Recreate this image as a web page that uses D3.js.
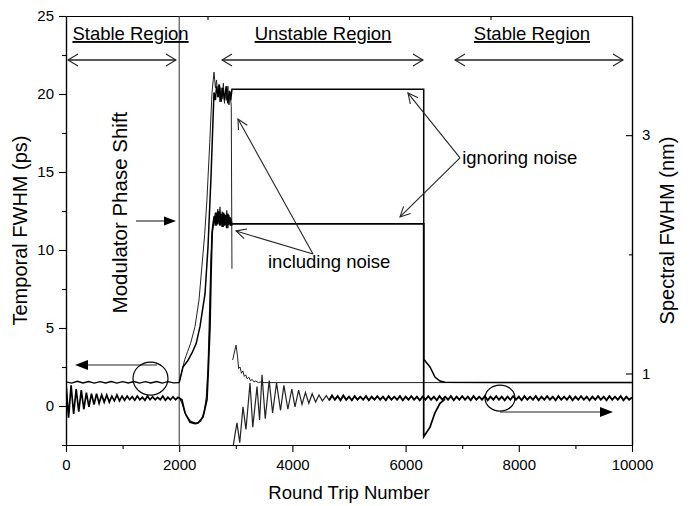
<!DOCTYPE html>
<html>
<head>
<meta charset="utf-8">
<script src="https://cdn.jsdelivr.net/npm/d3@7"></script>
<style>
  body { margin: 0; background: #fff; }
  text { font-family: "Liberation Sans", Arial, sans-serif; fill: #000; }
</style>
</head>
<body>
<svg id="chart" width="690" height="506"></svg>
<script>
//Tick values
let xMajorTicks = [0, 2000, 4000, 6000, 8000, 10000];
let xMinorTicks = [1000, 3000, 5000, 7000, 9000];
let xTopTicks = [2500, 5000, 7500];
let yLeftTicks = [0, 5, 10, 15, 20, 25];
let yLeftMinor = [-2.5, 2.5, 7.5, 12.5, 17.5, 22.5];
let yRightTicks = [1, 3];
let yRightMinor = [2];

//Temporal FWHM (ps), stable start, sampled every 100 round trips
let tempStartStep = 100;
let tempStart = [1.55, 1.47, 1.58, 1.48, 1.57, 1.47, 1.56, 1.48, 1.57, 1.47, 1.56,
    1.48, 1.57, 1.47, 1.56, 1.48, 1.57, 1.47, 1.56, 1.48, 1.5];

//Temporal FWHM ignoring noise [round trip, ps]
let tempIgnoring = [[2000, 1.5], [2067, 2.5], [2150, 2.9], [2226, 3.4], [2300, 4.0], [2368, 5.1],
    [2456, 7.2], [2509, 10.2], [2562, 14.7], [2597, 18.3], [2615, 20.1], [2640, 19.6], [2660, 20.5],
    [2690, 19.8], [2710, 20.6], [2740, 19.5], [2770, 20.4], [2800, 19.6], [2830, 20.5], [2860, 19.4],
    [2890, 20.2], [2910, 19.6], [2932, 20.3], [6320, 20.3], [6320, 3.0], [6431, 2.5], [6519, 1.86],
    [6607, 1.6], [6696, 1.52], [10000, 1.5]];

//Temporal FWHM including noise [round trip, ps]
let tempIncluding = [[2000, 1.5], [2050, 2.3], [2100, 3.0], [2150, 3.5], [2200, 4.0], [2280, 5.1],
    [2350, 6.8], [2400, 8.9], [2450, 11], [2490, 13.2], [2540, 16.9], [2580, 20.1], [2615, 21.4],
    [2640, 20.4], [2660, 20.9], [2680, 19.8], [2700, 20.6], [2720, 19.5], [2740, 20.4], [2760, 19.7],
    [2780, 20.7], [2800, 19.4], [2820, 20.3], [2840, 19.6], [2860, 20.5], [2880, 19.3], [2900, 20.1],
    [2920, 19.2], [2932, 8.8], [2938, null], [2945, 2.95], [3004, 3.9], [3030, 3.2], [3050, 2.4],
    [3075, 2.5], [3100, 2.1], [3125, 2.25], [3150, 1.9], [3175, 2.0], [3200, 1.75], [3230, 1.85],
    [3260, 1.62], [3290, 1.7], [3320, 1.55], [3350, 1.6], [3400, 1.5], [3450, 1.55], [3500, 1.5],
    [10000, 1.5]];

//Spectral FWHM (nm), stable start, sampled every 45 round trips
let specStartStep = 45;
let specStart = [0.92, 0.63, 0.9, 0.66, 0.87, 0.68, 0.86, 0.7, 0.84, 0.72, 0.83, 0.74, 0.83, 0.75,
    0.82, 0.76, 0.82, 0.76, 0.81, 0.77, 0.82, 0.77, 0.81, 0.775, 0.81, 0.78, 0.805, 0.775, 0.81, 0.78,
    0.8, 0.775, 0.81, 0.78, 0.805, 0.78, 0.8, 0.78, 0.81, 0.775, 0.8, 0.78, 0.805, 0.78, 0.8];

//Spectral FWHM ignoring noise [round trip, nm]
let specIgnoring = [[1980, 0.8], [2049, 0.78], [2102, 0.67], [2191, 0.59], [2280, 0.58], [2332, 0.585],
    [2420, 0.635], [2491, 0.78], [2509, 0.97], [2544, 1.39], [2562, 1.81], [2580, 2.18], [2600, 2.26],
    [2620, 2.32], [2640, 2.24], [2660, 2.35], [2680, 2.25], [2700, 2.36], [2720, 2.24], [2740, 2.34],
    [2760, 2.23], [2780, 2.35], [2800, 2.24], [2820, 2.33], [2840, 2.22], [2860, 2.34], [2880, 2.25],
    [2900, 2.31], [2920, 2.24], [2932, 2.255], [6320, 2.255], [6320, 0.47], [6431, 0.55], [6519, 0.67],
    [6607, 0.75], [6696, 0.785]];

//Spectral FWHM including noise [round trip, nm]
let specIncluding = [[2000, 0.8], [2050, 0.75], [2120, 0.65], [2200, 0.6], [2300, 0.58], [2380, 0.6],
    [2440, 0.67], [2480, 0.8], [2510, 1.05], [2535, 1.5], [2560, 1.95], [2590, 2.2], [2620, 2.3],
    [2640, 2.35], [2660, 2.24], [2680, 2.38], [2700, 2.26], [2720, 2.4], [2740, 2.25], [2760, 2.36],
    [2780, 2.23], [2800, 2.34], [2820, 2.26], [2840, 2.37], [2860, 2.22], [2880, 2.33], [2900, 2.24],
    [2920, 2.3], [2930, 2.26], [2940, null], [2950, 0.38], [2990, 0.5], [3021, 0.585], [3070, 0.42],
    [3127, 0.72], [3180, 0.53], [3251, 0.92], [3300, 0.55], [3375, 0.89], [3420, 0.61], [3463, 0.99],
    [3520, 0.62], [3590, 0.94], [3650, 0.67], [3720, 0.92], [3790, 0.69], [3850, 0.9], [3920, 0.7],
    [3990, 0.87], [4046, 0.72], [4110, 0.86], [4170, 0.74], [4230, 0.84], [4290, 0.75], [4350, 0.83],
    [4410, 0.76], [4470, 0.82], [4530, 0.77], [4600, 0.815]];

//Spectral FWHM including noise, tail from 4650, sampled every 50 round trips
let specTailStart = 4650;
let specTailStep = 50;
let specTail = [0.775, 0.815, 0.78, 0.81, 0.775, 0.815, 0.78, 0.805, 0.775, 0.81,
    0.78, 0.805, 0.78, 0.81, 0.775, 0.805, 0.78, 0.81, 0.78, 0.805,
    0.775, 0.81, 0.78, 0.805, 0.78, 0.81, 0.775, 0.805, 0.78, 0.81,
    0.78, 0.805, 0.775, 0.805, 0.78, 0.81, 0.78, 0.805, 0.775, 0.81,
    0.78, 0.805, 0.78, 0.81, 0.775, 0.805, 0.78, 0.81, 0.78, 0.805,
    0.775, 0.81, 0.78, 0.805, 0.78, 0.81, 0.775, 0.805, 0.78, 0.81,
    0.78, 0.805, 0.775, 0.805, 0.78, 0.81, 0.78, 0.805, 0.775, 0.81,
    0.78, 0.805, 0.78, 0.81, 0.775, 0.805, 0.78, 0.81, 0.78, 0.805,
    0.775, 0.81, 0.78, 0.805, 0.78, 0.81, 0.775, 0.805, 0.78, 0.81,
    0.78, 0.805, 0.775, 0.805, 0.78, 0.81, 0.78, 0.805, 0.775, 0.81,
    0.78, 0.805, 0.78, 0.81, 0.775, 0.805, 0.78, 0.8];

let svg = d3.select("#chart");
let mLeft = 66, mRight = 632, mTop = 16, mBottom = 445;

//Scales
let x = d3.scaleLinear().domain([0, 10000]).range([mLeft, mRight]);
let yT = d3.scaleLinear().domain([-2.5, 25]).range([mBottom, mTop]);
let yS = d3.scaleLinear().domain([0.4, 4]).range([mBottom, mTop]);

svg.append("defs").append("clipPath").attr("id", "plotClip")
    .append("rect").attr("x", mLeft).attr("y", mTop)
    .attr("width", mRight - mLeft).attr("height", mBottom - mTop);

//Axes
let fmt = d3.format("d");
function styleAxis(g) {
    g.selectAll("path").attr("stroke", "#000").attr("stroke-width", 1.2);
    g.selectAll("line").attr("stroke", "#000").attr("stroke-width", 1.1);
    g.selectAll("text").attr("font-size", "15px").attr("font-family", "Liberation Sans, Arial, sans-serif").attr("fill", "#000");
}
svg.append("g").attr("transform", `translate(0,${mBottom})`)
    .call(d3.axisBottom(x).tickValues(xMajorTicks).tickFormat(fmt).tickSize(7).tickSizeOuter(0).tickPadding(7))
    .call(styleAxis);
svg.append("g").attr("transform", `translate(0,${mBottom})`)
    .call(d3.axisBottom(x).tickValues(xMinorTicks).tickSize(4).tickSizeOuter(0).tickFormat(""))
    .call(styleAxis);
svg.append("g").attr("transform", `translate(0,${mTop})`)
    .call(d3.axisTop(x).tickValues(xTopTicks).tickSize(-4).tickSizeOuter(0).tickFormat(""))
    .call(styleAxis);
svg.append("g").attr("transform", `translate(${mLeft},0)`)
    .call(d3.axisLeft(yT).tickValues(yLeftTicks).tickFormat(fmt).tickSize(7).tickSizeOuter(0).tickPadding(5))
    .call(styleAxis);
svg.append("g").attr("transform", `translate(${mLeft},0)`)
    .call(d3.axisLeft(yT).tickValues(yLeftMinor).tickSize(4).tickSizeOuter(0).tickFormat(""))
    .call(styleAxis);
svg.append("g").attr("transform", `translate(${mRight},0)`)
    .call(d3.axisRight(yS).tickValues(yRightTicks).tickFormat(fmt).tickSize(-6).tickSizeOuter(0).tickPadding(10))
    .call(styleAxis);
svg.append("g").attr("transform", `translate(${mRight},0)`)
    .call(d3.axisRight(yS).tickValues(yRightMinor).tickSize(-3).tickSizeOuter(0).tickFormat(""))
    .call(styleAxis);

//Axis titles
svg.append("text").attr("x", (mLeft + mRight) / 2).attr("y", 499)
    .attr("text-anchor", "middle").attr("font-size", "18.5px").text("Round Trip Number");
svg.append("text").attr("transform", `translate(27,${(mTop + mBottom) / 2}) rotate(-90)`)
    .attr("text-anchor", "middle").attr("font-size", "20px").text("Temporal FWHM (ps)");
svg.append("text").attr("transform", `translate(674,${(mTop + mBottom) / 2}) rotate(-90)`)
    .attr("text-anchor", "middle").attr("font-size", "20px").text("Spectral FWHM (nm)");

//Modulator phase shift marker
svg.append("line")
    .attr("x1", x(2000)).attr("x2", x(2000)).attr("y1", yT(25)).attr("y2", yT(-2.5))
    .attr("stroke", "#333").attr("stroke-width", 1);

//Curves
let plot = svg.append("g").attr("clip-path", "url(#plotClip)");
let lineT = d3.line().defined(d => d[1] !== null).x(d => x(d[0])).y(d => yT(d[1]));
let lineS = d3.line().defined(d => d[1] !== null).x(d => x(d[0])).y(d => yS(d[1]));

let tempStartPts = tempStart.map((v, i) => [i * tempStartStep, v]);
let specStartPts = specStart.map((v, i) => [i * specStartStep, v]);
let specTailPts = specTail.map((v, i) => [specTailStart + i * specTailStep, v]);

plot.append("path").datum(tempIncluding).attr("d", lineT)
    .attr("fill", "none").attr("stroke", "#222").attr("stroke-width", 1);
plot.append("path").datum(specIncluding.concat(specTailPts)).attr("d", lineS)
    .attr("fill", "none").attr("stroke", "#222").attr("stroke-width", 1.2);
plot.append("path").datum(specTailPts.filter(d => d[0] >= 4550)).attr("d", lineS)
    .attr("fill", "none").attr("stroke", "#000").attr("stroke-width", 1.8);
plot.append("path").datum(tempStartPts).attr("d", lineT)
    .attr("fill", "none").attr("stroke", "#000").attr("stroke-width", 1.4);
plot.append("path").datum(tempIgnoring).attr("d", lineT)
    .attr("fill", "none").attr("stroke", "#000").attr("stroke-width", 1.5);
plot.append("path").datum(specStartPts.concat(specIgnoring)).attr("d", lineS)
    .attr("fill", "none").attr("stroke", "#000").attr("stroke-width", 1.7);

//Arrow helper
function arrow(x1, y1, x2, y2, filled, len, half) {
    let a = Math.atan2(y2 - y1, x2 - x1);
    let bx = x2 - len * Math.cos(a), by = y2 - len * Math.sin(a);
    let p1 = [bx + half * Math.sin(a), by - half * Math.cos(a)];
    let p2 = [bx - half * Math.sin(a), by + half * Math.cos(a)];
    svg.append("line").attr("x1", x1).attr("y1", y1)
        .attr("x2", filled ? bx : x2).attr("y2", filled ? by : y2)
        .attr("stroke", "#222").attr("stroke-width", 1.1);
    if (filled) {
        svg.append("path").attr("d", `M${x2},${y2}L${p1}L${p2}Z`).attr("fill", "#000");
    } else {
        svg.append("path").attr("d", `M${p1}L${x2},${y2}L${p2}`)
            .attr("fill", "none").attr("stroke", "#222").attr("stroke-width", 1.1);
    }
}
function doubleArrow(xa, xb, yv) {
    arrow(x(xa), yT(yv), x(xb), yT(yv), false, 10, 6);
    arrow(x(xb), yT(yv), x(xa), yT(yv), false, 10, 6);
}

//Region labels
let regionY = 23.46;
[["Stable Region", 1140], ["Unstable Region", 4541], ["Stable Region", 8233]].forEach(r => {
    svg.append("text").attr("x", x(r[1])).attr("y", yT(regionY))
        .attr("text-anchor", "middle").attr("font-size", "18.5px")
        .style("text-decoration", "underline").text(r[0]);
});
doubleArrow(35, 1943, 22.18);
doubleArrow(2756, 6307, 22.18);
doubleArrow(6873, 9841, 22.18);

//Modulator phase shift label
svg.append("text").attr("transform", `translate(${x(1075)},${yT(12.4)}) rotate(-90)`)
    .attr("text-anchor", "middle").attr("font-size", "20.5px").text("Modulator Phase Shift");
arrow(x(1237), yT(11.86), x(1943), yT(11.86), true, 12, 4.5);

//Noise labels
svg.append("text").attr("x", x(7000)).attr("y", yT(15.51))
    .attr("font-size", "18.5px").text("ignoring noise");
arrow(x(6961), yT(15.9), x(6042), yT(20.06), false, 10, 5);
arrow(x(6961), yT(15.9), x(5901), yT(12.12), false, 10, 5);
svg.append("text").attr("x", x(3569)).attr("y", yT(8.85))
    .attr("font-size", "18.5px").text("including noise");
arrow(x(4364), yT(9.74), x(3039), yT(18.4), false, 10, 5);
arrow(x(4364), yT(9.74), x(3004), yT(11.22), false, 10, 5);

//Axis markers (circles with arrows)
svg.append("ellipse").attr("cx", x(1493)).attr("cy", yT(1.76)).attr("rx", 17.5).attr("ry", 16.5)
    .attr("fill", "none").attr("stroke", "#000").attr("stroke-width", 1.2);
arrow(x(1608), yT(2.63), x(159), yT(2.63), true, 13, 5);
svg.append("ellipse").attr("cx", x(7668)).attr("cy", yT(0.51)).attr("rx", 15).attr("ry", 13)
    .attr("fill", "none").attr("stroke", "#000").attr("stroke-width", 1.2);
arrow(x(7668), yT(-0.38), x(9664), yT(-0.38), true, 13, 5);
</script>
</body>
</html>
